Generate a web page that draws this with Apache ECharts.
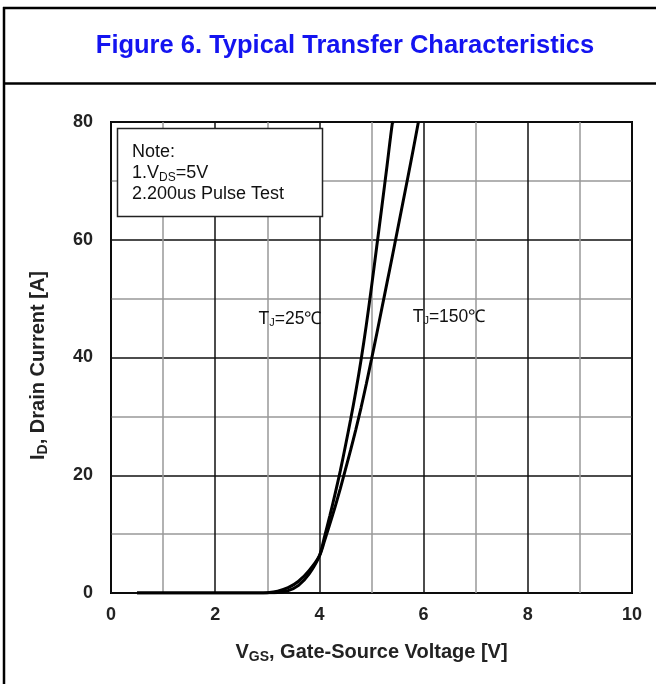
<!DOCTYPE html>
<html>
<head>
<meta charset="utf-8">
<script src="https://cdn.jsdelivr.net/npm/echarts@6/dist/echarts.min.js"></script>
<style>
html,body{margin:0;padding:0;background:#fff;}
#c{width:656px;height:684px;}
</style>
</head>
<body>
<div id="c"></div>
<script>
// ---- data ----
const titleText = 'Figure 6. Typical Transfer Characteristics';
const xTicks = [0, 2, 4, 6, 8, 10];
const yTicks = [0, 20, 40, 60, 80];
const vgs25 = [0.5, 1.0, 2.0, 2.8, 3.0, 3.2, 3.4, 3.6, 3.8, 4.0, 4.1, 4.2, 4.3, 4.4, 4.5, 4.6, 4.7, 4.8, 4.9, 5.0, 5.1, 5.2, 5.3, 5.4, 5.42];
const id25  = [0, 0, 0, 0, 0.02, 0.1, 0.4, 1.3, 3.2, 6.3, 9.6, 13.1, 16.8, 20.7, 25.0, 29.5, 34.3, 39.6, 45.5, 52.0, 58.8, 65.7, 72.7, 79.8, 80];
const vgs150 = [0.5, 1.0, 2.0, 2.8, 3.0, 3.2, 3.4, 3.6, 3.8, 4.0, 4.1, 4.2, 4.3, 4.4, 4.5, 4.6, 4.7, 4.8, 4.9, 5.0, 5.1, 5.2, 5.3, 5.4, 5.5, 5.6, 5.7, 5.8, 5.9];
const id150  = [0, 0, 0, 0.01, 0.06, 0.3, 0.9, 2.0, 3.8, 6.3, 8.9, 11.7, 14.6, 17.7, 21.0, 24.3, 27.8, 31.5, 35.5, 39.7, 44.0, 48.4, 52.8, 57.2, 61.7, 66.2, 70.7, 75.3, 80];
const label25 = 'T_J=25℃';
const label150 = 'T_J=150℃';
const noteLines = ['Note:', '1.V_DS=5V', '2.200us Pulse Test'];

const zip = (a, b) => a.map((v, i) => [v, b[i]]);
const F = '"Liberation Sans", Arial, sans-serif';
const sub = (s) => { const [a, b] = s.split('_'); return {main: a, sub: b}; };

const chart = echarts.init(document.getElementById('c'), null, {renderer: 'canvas'});
chart.setOption({
  backgroundColor: '#fff',
  animation: false,
  grid: {left: 111, right: 24, top: 122, bottom: 91, show: true, borderColor: '#000', borderWidth: 2, backgroundColor: 'transparent'},
  xAxis: {
    type: 'value', min: xTicks[0], max: xTicks[xTicks.length - 1], interval: 2,
    name: '{b|V}{s|GS}{b|, Gate-Source Voltage [V]}',
    nameLocation: 'middle', nameGap: 48, nameMoveOverlap: false,
    nameTextStyle: {rich: {
      b: {fontFamily: F, fontWeight: 'bold', fontSize: 20, color: '#222'},
      s: {fontFamily: F, fontWeight: 'bold', fontSize: 14, color: '#222', padding: [9, 0, 0, 0]}
    }},
    axisLine: {show: false}, axisTick: {show: false},
    axisLabel: {fontFamily: F, fontWeight: 'bold', fontSize: 18, color: '#222', margin: 13},
    splitLine: {show: true, lineStyle: {color: '#111', width: 1.5}},
    minorTick: {show: false, splitNumber: 2},
    minorSplitLine: {show: true, lineStyle: {color: '#999', width: 1.5}}
  },
  yAxis: {
    type: 'value', min: yTicks[0], max: yTicks[yTicks.length - 1], interval: 20,
    name: '{b|I}{s|D}{b|, Drain Current [A]}',
    nameLocation: 'middle', nameGap: 61, nameMoveOverlap: false,
    nameTextStyle: {padding: [0, 16, 0, 0], rich: {
      b: {fontFamily: F, fontWeight: 'bold', fontSize: 20, color: '#222'},
      s: {fontFamily: F, fontWeight: 'bold', fontSize: 14, color: '#222', padding: [9, 0, 0, 0]}
    }},
    axisLine: {show: false}, axisTick: {show: false},
    axisLabel: {fontFamily: F, fontWeight: 'bold', fontSize: 18, color: '#222', margin: 18},
    splitLine: {show: true, lineStyle: {color: '#111', width: 1.5}},
    minorTick: {show: false, splitNumber: 2},
    minorSplitLine: {show: true, lineStyle: {color: '#999', width: 1.5}}
  },
  series: [
    {type: 'line', name: '25', data: zip(vgs25, id25), smooth: 0.3, symbol: 'none', lineStyle: {color: '#000', width: 3}, z: 5},
    {type: 'line', name: '150', data: zip(vgs150, id150), smooth: 0.3, symbol: 'none', lineStyle: {color: '#000', width: 3}, z: 5}
  ],
  graphic: [
    {type: 'line', shape: {x1: 4, y1: 7, x2: 4, y2: 684}, style: {stroke: '#000', lineWidth: 2.5}},
    {type: 'line', shape: {x1: 3, y1: 8, x2: 656, y2: 8}, style: {stroke: '#000', lineWidth: 2.5}},
    {type: 'line', shape: {x1: 3, y1: 83.5, x2: 656, y2: 83.5}, style: {stroke: '#000', lineWidth: 2.5}},
    {type: 'text', x: 345, y: 46, style: {text: titleText, fontFamily: F, fontWeight: 'bold', fontSize: 25.5, fill: '#1414f0', textAlign: 'center', textVerticalAlign: 'middle'}},
    {type: 'rect', shape: {x: 117.5, y: 128.5, width: 205, height: 88}, style: {fill: '#fff', stroke: '#222', lineWidth: 1.5}, z: 10},
    {type: 'text', x: 132, y: 142, z: 11, style: {
      text: '{n|' + noteLines[0] + '}\n{n|' + sub(noteLines[1]).main + '}{s|' + sub(noteLines[1]).sub.slice(0, 2) + '}{n|' + sub(noteLines[1]).sub.slice(2) + '}\n{n|' + noteLines[2] + '}',
      rich: {
        n: {fontFamily: F, fontSize: 18, fill: '#111', lineHeight: 21},
        s: {fontFamily: F, fontSize: 12, fill: '#111', lineHeight: 21, padding: [8, 0, 0, 0]}
      }
    }},
    {type: 'text', x: 290, y: 319, z: 11, style: {
      text: '{n|' + sub(label25).main + '}{s|' + sub(label25).sub[0] + '}{n|' + sub(label25).sub.slice(1) + '}',
      textAlign: 'center', textVerticalAlign: 'middle',
      rich: {n: {fontFamily: F, fontSize: 17.5, fill: '#111'}, s: {fontFamily: F, fontSize: 11, fill: '#111', padding: [7, 0, 0, 0]}}
    }},
    {type: 'text', x: 449, y: 317, z: 11, style: {
      text: '{n|' + sub(label150).main + '}{s|' + sub(label150).sub[0] + '}{n|' + sub(label150).sub.slice(1) + '}',
      textAlign: 'center', textVerticalAlign: 'middle',
      rich: {n: {fontFamily: F, fontSize: 17.5, fill: '#111'}, s: {fontFamily: F, fontSize: 11, fill: '#111', padding: [7, 0, 0, 0]}}
    }}
  ]
});
</script>
</body>
</html>
